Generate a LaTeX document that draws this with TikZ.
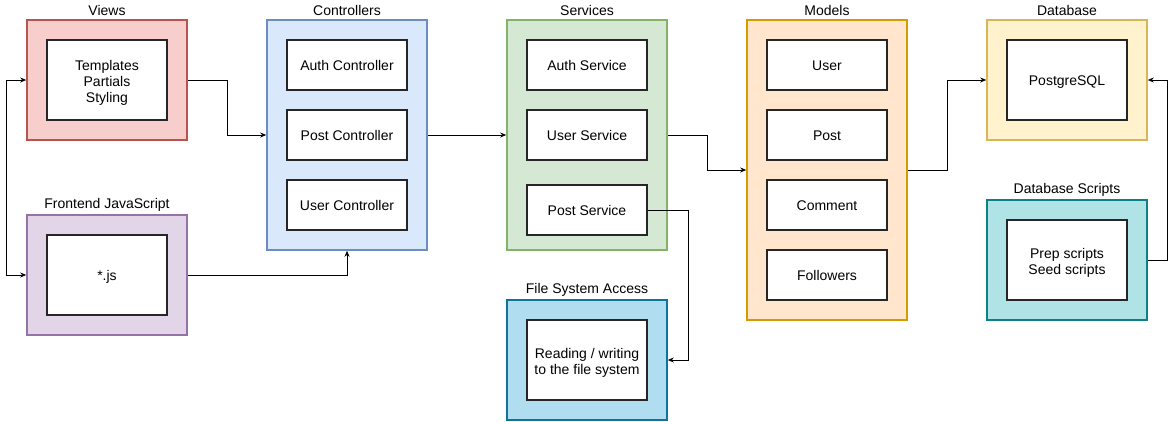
\documentclass[tikz,border=0pt]{standalone}
\usepackage{fontspec}
\setmainfont{Liberation Sans}
\usetikzlibrary{arrows.meta}
\definecolor{redF}{HTML}{F8CECC}\definecolor{redS}{HTML}{B85450}
\definecolor{bluF}{HTML}{DAE8FC}\definecolor{bluS}{HTML}{6C8EBF}
\definecolor{grnF}{HTML}{D5E8D4}\definecolor{grnS}{HTML}{82B366}
\definecolor{orgF}{HTML}{FFE6CC}\definecolor{orgS}{HTML}{D79B00}
\definecolor{yelF}{HTML}{FFF2CC}\definecolor{yelS}{HTML}{D6B656}
\definecolor{purF}{HTML}{E1D5E7}\definecolor{purS}{HTML}{9673A6}
\definecolor{fsF}{HTML}{B1DDF0}\definecolor{fsS}{HTML}{10739E}
\definecolor{dsF}{HTML}{B0E3E6}\definecolor{dsS}{HTML}{0E8088}
\newcommand{\mlines}[1]{\begin{tabular}[t]{@{}c@{}}#1\end{tabular}}
\begin{document}
\begin{tikzpicture}[x=1pt,y=-1pt,
  every node/.style={font=\fontsize{14}{16}\selectfont},
  outer/.style={draw, line width=1.6pt, minimum width=160pt, inner sep=0pt},
  inner/.style={draw=black!85, line width=2pt, fill=white, minimum width=120pt, inner sep=0pt, text height=12.5pt, text depth=1.5pt},
  twol/.style={text height=12pt, text depth=16pt},
  threel/.style={text height=12pt, text depth=32pt},
  grp/.style={anchor=south, inner sep=0pt, yshift=3pt},
  conn/.style={line width=0.8pt, -{Stealth[length=6pt,width=5pt]}},
  conn2/.style={line width=0.8pt, {Stealth[length=6pt,width=5pt]}-{Stealth[length=6pt,width=5pt]}}]
\useasboundingbox (0,0) rectangle (1176,421);
% Views
\node[outer, fill=redF, draw=redS, minimum height=120pt] (views) at (107,80) {};
\node[inner, threel, minimum height=80pt] (viewsIn) at (107,80) {\mlines{Templates\\Partials\\Styling}};
\node[grp] (viewsL) at (views.north) {Views};
% Frontend JS
\node[outer, fill=purF, draw=purS, minimum height=120pt] (js) at (107,275) {};
\node[inner, minimum height=80pt] (jsIn) at (107,275) {*.js};
\node[grp] (jsL) at (js.north) {Frontend JavaScript};
% Controllers
\node[outer, fill=bluF, draw=bluS, minimum height=230pt] (ctrl) at (347,135) {};
\node[inner, minimum height=50pt] (c1) at (347,65) {Auth Controller};
\node[inner, minimum height=50pt] (c2) at (347,135) {Post Controller};
\node[inner, minimum height=50pt] (c3) at (347,205) {User Controller};
\node[grp] (ctrlL) at (ctrl.north) {Controllers};
% Services
\node[outer, fill=grnF, draw=grnS, minimum height=230pt] (svc) at (587,135) {};
\node[inner, minimum height=50pt] (s1) at (587,65) {Auth Service};
\node[inner, minimum height=50pt] (s2) at (587,135) {User Service};
\node[inner, minimum height=50pt] (s3) at (587,210) {Post Service};
\node[grp] (svcL) at (svc.north) {Services};
% File system
\node[outer, fill=fsF, draw=fsS, minimum height=120pt] (fs) at (587,360) {};
\node[inner, twol, minimum height=80pt] (fsIn) at (587,360) {\mlines{Reading / writing\\to the file system}};
\node[grp] (fsL) at (fs.north) {File System Access};
% Models
\node[outer, fill=orgF, draw=orgS, minimum height=300pt] (mod) at (827,170) {};
\node[inner, minimum height=50pt] (m1) at (827,65) {User};
\node[inner, minimum height=50pt] (m2) at (827,135) {Post};
\node[inner, minimum height=50pt] (m3) at (827,205) {Comment};
\node[inner, minimum height=50pt] (m4) at (827,275) {Followers};
\node[grp] (modL) at (mod.north) {Models};
% Database
\node[outer, fill=yelF, draw=yelS, minimum height=120pt] (db) at (1067,80) {};
\node[inner, minimum height=80pt] (dbIn) at (1067,80) {PostgreSQL};
\node[grp] (dbL) at (db.north) {Database};
% Database scripts
\node[outer, fill=dsF, draw=dsS, minimum height=120pt] (ds) at (1067,260) {};
\node[inner, twol, minimum height=80pt] (dsIn) at (1067,260) {\mlines{Prep scripts\\Seed scripts}};
\node[grp] (dsL) at (ds.north) {Database Scripts};
% Connectors
\draw[conn2] (views.west) -- ++(-20,0) |- (js.west);
\draw[conn] (views.east) -- ++(40,0) |- (ctrl.west);
\draw[conn] (js.east) -| (ctrl.south);
\draw[conn] (ctrl.east) -- (svc.west);
\draw[conn] (svc.east) -- ++(40,0) |- (mod.west);
\draw[conn] (s3.east) -- ++(40,0) |- (fs.east);
\draw[conn] (mod.east) -- ++(40,0) |- (db.west);
\draw[conn] (ds.east) -- ++(20,0) |- (db.east);
\end{tikzpicture}
\end{document}
